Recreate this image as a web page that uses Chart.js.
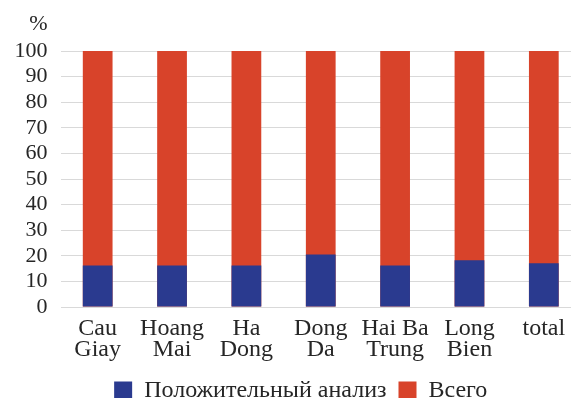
<!DOCTYPE html>
<html>
<head>
<meta charset="utf-8">
<script src="https://cdn.jsdelivr.net/npm/chart.js@4"></script>
<style>
html,body{margin:0;padding:0;background:#fff;overflow:hidden;}
#wrap{width:581px;height:398px;}
</style>
</head>
<body>
<div id="wrap"><canvas id="c" width="581" height="398"></canvas></div>
<script>
const categories = [["Cau","Giay"],["Hoang","Mai"],["Ha","Dong"],["Dong","Da"],["Hai Ba","Trung"],["Long","Bien"],"total"];
const positiveValues = [16.2, 16.2, 16.2, 20.5, 16.2, 18.3, 17.1];
const totalValues = [100, 100, 100, 100, 100, 100, 100];
const seriesNames = ["Положительный анализ", "Всего"];
const yTicks = [0,10,20,30,40,50,60,70,80,90,100];
const unitLabel = "%";

const FONT = "'Liberation Serif', 'Times New Roman', serif";
const TXT = "#262626";

const unitPlugin = {
  id: 'unitLabel',
  afterLayout(chart) {
    // nudge the legend so that it sits where the reference has it
    const lg = chart.legend;
    if (lg) { lg.left -= 20; lg.right -= 20; }
  },
  afterDraw(chart) {
    const y = chart.scales.y;
    const ctx = chart.ctx;
    ctx.save();
    ctx.font = "22px " + FONT;
    ctx.fillStyle = TXT;
    ctx.textAlign = 'right';
    ctx.textBaseline = 'alphabetic';
    ctx.fillText(unitLabel, y.right - 13, y.top - 21);
    ctx.restore();
  }
};

new Chart(document.getElementById('c'), {
  type: 'bar',
  data: {
    labels: categories,
    datasets: [
      { label: seriesNames[0], data: positiveValues, backgroundColor: '#2a3a8f', order: 0,
        barPercentage: 0.40, categoryPercentage: 1.0 },
      { label: seriesNames[1], data: totalValues, backgroundColor: '#d8432a', order: 1,
        barPercentage: 0.40, categoryPercentage: 1.0 }
    ]
  },
  options: {
    responsive: false,
    animation: false,
    layout: { padding: { top: 51, left: 1.5, right: 0, bottom: -14.5 } },
    plugins: {
      legend: {
        position: 'bottom',
        fullSize: false,
        labels: { font: { family: FONT, size: 24 }, color: TXT, boxWidth: 18, boxHeight: 18, padding: 12 }
      },
      tooltip: { enabled: false }
    },
    scales: {
      x: {
        stacked: true,
        grid: { display: false },
        border: { display: false },
        afterFit(scale) { scale.height += 3.5; },
        ticks: { font: { family: FONT, size: 24, lineHeight: '21px' }, color: TXT, maxRotation: 0, autoSkip: false, padding: 3 }
      },
      y: {
        stacked: false,
        min: 0, max: 100,
        afterBuildTicks(scale) { scale.ticks = yTicks.map(v => ({ value: v })); },
        grid: { color: '#d9d9d9', drawTicks: false, lineWidth: 1 },
        border: { display: false },
        ticks: { font: { family: FONT, size: 22 }, color: TXT, padding: 13, autoSkip: false }
      }
    }
  },
  plugins: [unitPlugin]
});
</script>
</body>
</html>
